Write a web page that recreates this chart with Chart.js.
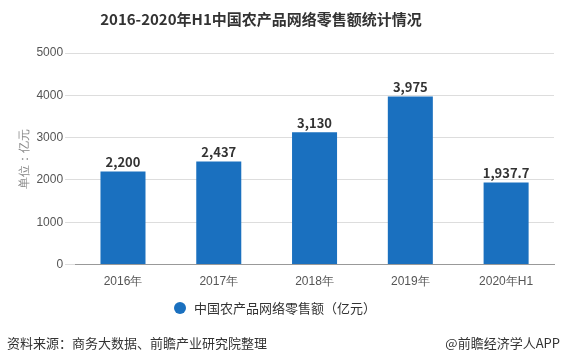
<!DOCTYPE html>
<html>
<head>
<meta charset="utf-8">
<script src="https://cdn.jsdelivr.net/npm/chart.js@4"></script>
<style>
  body { margin: 0; background: #fff; font-family: "Noto Sans CJK SC", sans-serif; }
  #wrap { position: relative; width: 568px; height: 364px; overflow: hidden; }
  #title { position: absolute; left: 0; width: 522px; top: 8px; text-align: center;
           font-size: 15px; font-weight: bold; color: #333; }
  #legend { position: absolute; top: 298px; left: 174px; font-size: 13px; color: #333; }
  #legend span.dot { display: inline-block; width: 12px; height: 12px; border-radius: 50%;
                     background: #1a70bf; vertical-align: -1px; margin-right: 8px; }
  #src { position: absolute; left: 7px; top: 333px; font-size: 13px; color: #333; }
  #app { position: absolute; right: 8px; top: 333px; font-size: 13px; color: #333; }
</style>
</head>
<body>
<div id="wrap">
  <canvas id="myChart" width="568" height="364"></canvas>
  <div id="title">2016-2020年H1中国农产品网络零售额统计情况</div>
  <div id="legend"><span class="dot"></span>中国农产品网络零售额（亿元）</div>
  <div id="src">资料来源：商务大数据、前瞻产业研究院整理</div>
  <div id="app">@前瞻经济学人APP</div>
</div>
<script>
// chart data
const years = ['2016年', '2017年', '2018年', '2019年', '2020年H1'];
const sales = [2200, 2437, 3130, 3975, 1937.7];
const yTicks = [0, 1000, 2000, 3000, 4000, 5000];

// draw value labels above each bar
const valueLabels = {
  id: 'valueLabels',
  afterDatasetsDraw(chart) {
    const ctx = chart.ctx;
    const meta = chart.getDatasetMeta(0);
    ctx.save();
    ctx.font = 'bold 13px "Noto Sans CJK SC", sans-serif';
    ctx.fillStyle = '#333';
    ctx.textAlign = 'center';
    ctx.textBaseline = 'bottom';
    meta.data.forEach((bar, i) => {
      ctx.fillText(sales[i].toLocaleString('en-US'), bar.x, bar.y - 3);
    });
    ctx.restore();
  }
};

const ctx = document.getElementById('myChart').getContext('2d');
const myChart = new Chart(ctx, {
  type: 'bar',
  data: {
    labels: years,
    datasets: [{
      label: '中国农产品网络零售额（亿元）',
      data: sales,
      backgroundColor: '#1a70bf',
      categoryPercentage: 1,
      barPercentage: 0.47
    }]
  },
  options: {
    responsive: false,
    animation: false,
    layout: { padding: { top: 53, left: 14, right: 14, bottom: 73 } },
    plugins: {
      legend: { display: false },
      tooltip: { enabled: false }
    },
    scales: {
      x: {
        grid: { display: false },
        border: { color: '#999' },
        ticks: { color: '#555', font: { size: 12 }, padding: 2 }
      },
      y: {
        min: 0,
        max: 5000,
        afterBuildTicks: axis => { axis.ticks = yTicks.map(v => ({ value: v })); },
        grid: { color: '#ddd', tickLength: 10, tickColor: '#ddd' },
        border: { display: false },
        ticks: { color: '#555', font: { size: 12 }, padding: 2, callback: v => String(v) },
        title: { display: true, text: '单位：亿元', color: '#888', font: { size: 12 }, padding: 3 }
      }
    }
  },
  plugins: [valueLabels]
});
</script>
</body>
</html>
